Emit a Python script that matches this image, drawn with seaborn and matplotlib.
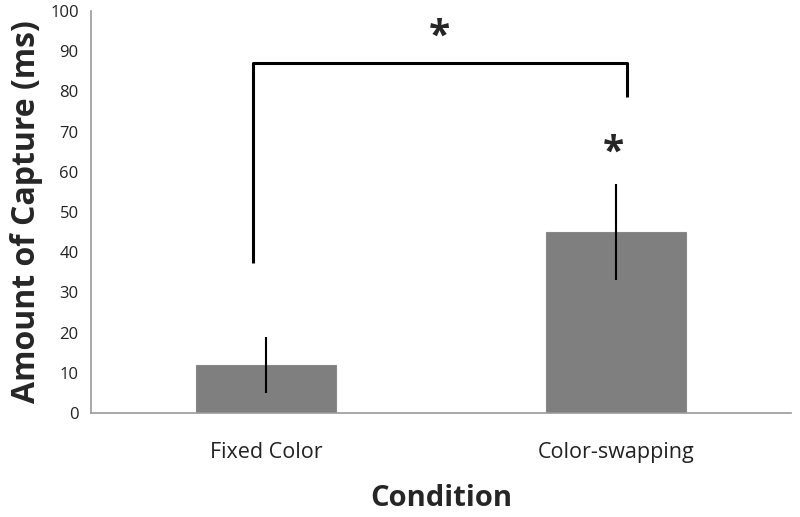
import matplotlib
matplotlib.use("Agg")
import matplotlib.pyplot as plt
import seaborn as sns
import pandas as pd

conditions = ["Fixed Color", "Color-swapping"]
means = [12, 45]
errors = [7, 12]
yticks = [0, 10, 20, 30, 40, 50, 60, 70, 80, 90, 100]

sns.set_theme(style="white")
plt.rcParams["font.family"] = ["Open Sans", "DejaVu Sans"]

df = pd.DataFrame({"Condition": conditions, "Capture": means})

fig = plt.figure(figsize=(8, 5.17), dpi=100)
ax = fig.add_axes([0.114, 0.201, 0.875, 0.778])

sns.barplot(data=df, x="Condition", y="Capture", color="#7f7f7f", width=0.4,
            saturation=1, errorbar=None, ax=ax, edgecolor="#888888", linewidth=0.8)
ax.errorbar(range(len(conditions)), means, yerr=errors, fmt="none",
            ecolor="black", elinewidth=1.5, capsize=0)

ax.set_xlim(-0.5, 1.5)
ax.set_ylim(0, 100)
ax.set_yticks(yticks)
ax.set_yticklabels([str(t) for t in yticks], fontsize=12, color="#222222")
ax.set_xticks([0, 1])
ax.set_xticklabels(conditions, fontsize=15.5, color="#222222")
ax.tick_params(axis="x", length=0, pad=21)
ax.set_xticks([-0.5, 0.5, 1.5], minor=True)
ax.tick_params(axis="x", which="minor", length=5, color="#999999", direction="out", width=1)
ax.tick_params(axis="y", length=5, color="#999999", direction="out", width=1, pad=4)

for s in ["top", "right"]:
    ax.spines[s].set_visible(False)
for s in ["left", "bottom"]:
    ax.spines[s].set_color("#999999")
    ax.spines[s].set_linewidth(1.2)

ax.set_xlabel("Condition", fontsize=21, fontweight="bold", labelpad=15)
ax.set_ylabel("Amount of Capture (ms)", fontsize=23, fontweight="bold", labelpad=5)

# significance bracket
ax.plot([-0.037, -0.037, 1.03, 1.03], [37.3, 87, 87, 78.6], color="black", lw=2.2,
        solid_joinstyle="round", solid_capstyle="butt")
ax.text(0.495, 93.5, "*", ha="center", va="center", fontsize=28, fontweight="bold")
ax.text(0.993, 64.5, "*", ha="center", va="center", fontsize=28, fontweight="bold")

fig.savefig("out.png", dpi=100)
